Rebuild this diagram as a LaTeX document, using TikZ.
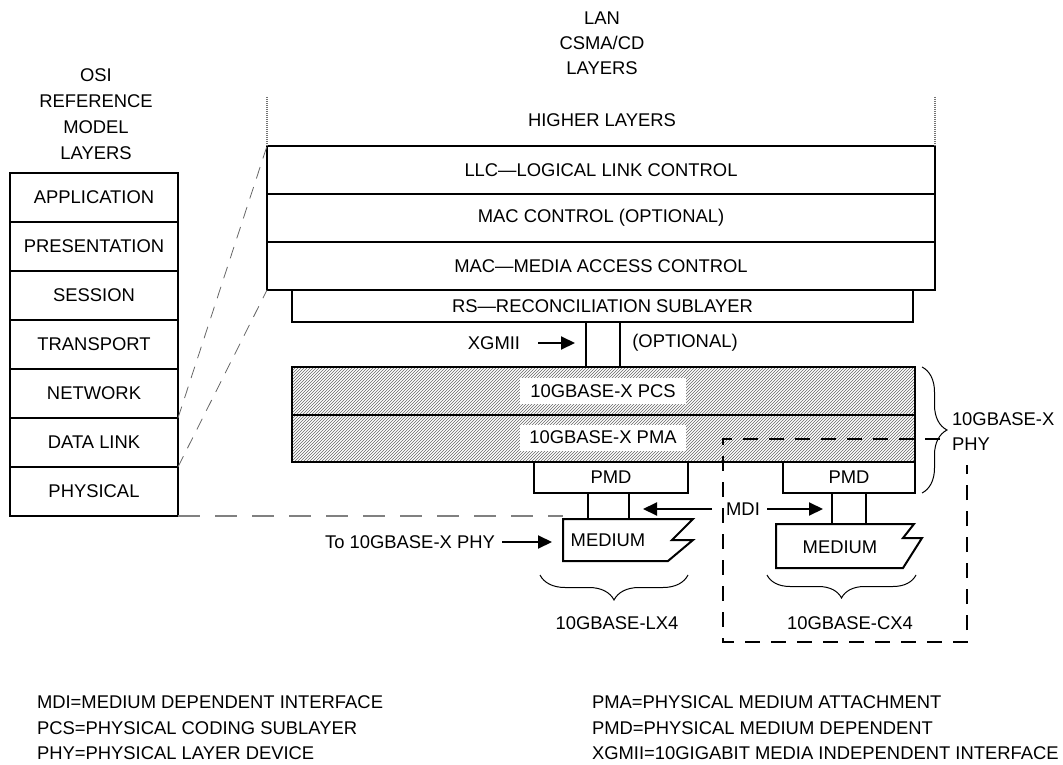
\documentclass[tikz,border=0pt]{standalone}
\usepackage{fontspec}
\setmainfont{Liberation Sans}
\usetikzlibrary{arrows.meta,patterns,decorations.pathreplacing}
\begin{document}
\begin{tikzpicture}[x=1pt,y=-1pt,
  every node/.style={font=\fontsize{18.4}{22}\selectfont,inner sep=0pt,outer sep=0pt},
  box/.style={draw,line width=2pt,minimum height=#1},
  osibox/.style={draw,line width=2pt,minimum width=168,minimum height=49},
  wide/.style={minimum width=668},
  hatch/.style={draw,line width=2pt,pattern=north east lines,pattern color=black!60,minimum width=623},
  wlabel/.style={fill=white,minimum width=166,minimum height=26},
  conn/.style={line width=2pt},
  arr/.style={line width=2pt,-{Triangle[length=14pt,width=13pt]}},
  guide/.style={black!60,line width=0.8pt,dash pattern=on 12pt off 9pt},
  floor/.style={black!50,line width=1.8pt,dash pattern=on 22pt off 15pt},
  topdot/.style={black!55,line width=1.6pt,dash pattern=on 1pt off 1pt},
  phybox/.style={line width=2pt,dash pattern=on 15pt off 11pt},
  brc/.style={line width=1pt,decorate,decoration={brace,amplitude=#1}},
  legend/.style={anchor=west,font=\fontsize{18.4}{22}\selectfont}
]
\useasboundingbox (0,0) rectangle (1063,765);

% titles
\node[align=center,font=\fontsize{18.4}{26}\selectfont] (osititle) at (96,114) {OSI\\REFERENCE\\MODEL\\LAYERS};
\node[align=center,font=\fontsize{18.4}{25}\selectfont] (lantitle) at (602,43) {LAN\\CSMA/CD\\LAYERS};
\node (higher) at (602,120) {HIGHER LAYERS};

% OSI column
\node[osibox] (app)  at (94,197.5) {APPLICATION};
\node[osibox] (pres) at (94,246.5) {PRESENTATION};
\node[osibox] (sess) at (94,295.5) {SESSION};
\node[osibox] (trans) at (94,344.5) {TRANSPORT};
\node[osibox] (net)  at (94,393.5) {NETWORK};
\node[osibox] (dl)   at (94,442.5) {DATA LINK};
\node[osibox] (phys) at (94,491.5) {PHYSICAL};

% LAN stack
\node[box=48,wide] (llc)  at (601,170) {LLC---LOGICAL LINK CONTROL};
\node[box=48,wide] (macc) at (601,218) {MAC CONTROL (OPTIONAL)};
\node[box=48,wide] (mac)  at (601,266) {MAC---MEDIA ACCESS CONTROL};
\node[box=32,minimum width=621] (rs) at (602.5,306) {RS---RECONCILIATION SUBLAYER};

\draw[topdot] (267,97) -- (llc.north west);
\draw[topdot] (935,97) -- (llc.north east);

% XGMII
\draw[conn] (586,0 |- rs.south) -- (586,367);
\draw[conn] (620,0 |- rs.south) -- (620,367);
\node (xg) at (494,343) {XGMII};
\coordinate (xga) at (538,343);
\coordinate (xgb) at (575,343);
\draw[arr] (xga) -- (xgb);
\node (opt) at (685,343) {(OPTIONAL)};

% PCS / PMA
\node[hatch,minimum height=48] (pcs) at (603.5,391) {};
\node[hatch,minimum height=47] (pma) at (603.5,438.5) {};
\node[wlabel] (pcsl) at (603,391) {10GBASE-X PCS};
\node[wlabel] (pmal) at (603,437.5) {10GBASE-X PMA};

% PMDs
\node[box=31,minimum width=154] (pmdL) at (611,477.5) {PMD};
\node[box=31,minimum width=132] (pmdR) at (849,477.5) {PMD};

% media
\draw[line width=2pt] (563,519) coordinate (mLtl) -- (693,519) -- (672,540) -- (693,540) -- (668,561) -- (563,561) -- cycle;
\node (medL) at (608,540) {MEDIUM};
\draw[line width=2pt] (776,524) coordinate (mRtl) -- (914,524) -- (903,538) -- (922,538) -- (903,568) -- (776,568) -- cycle;
\node (medR) at (840,547) {MEDIUM};

\draw[conn] (588,0 |- pmdL.south) -- (588,519);
\draw[conn] (629,0 |- pmdL.south) -- (629,519);
\draw[conn] (832,0 |- pmdR.south) -- (832,524);
\draw[conn] (866,0 |- pmdR.south) -- (866,524);

% MDI
\node (mdi) at (743,509) {MDI};
\coordinate (mdiL1) at (712,509);
\coordinate (mdiL2) at (643,509);
\coordinate (mdiR1) at (767,509);
\coordinate (mdiR2) at (823,509);
\draw[arr] (mdiL1) -- (mdiL2);
\draw[arr] (mdiR1) -- (mdiR2);

% To 10GBASE-X PHY
\node (tophy) at (410,542) {To 10GBASE-X PHY};
\coordinate (ta) at (502,542);
\coordinate (tb) at (552,542);
\draw[arr] (ta) -- (tb);

% guide lines
\draw[guide] (net.south east) -- (llc.north west);
\draw[guide] (dl.south east) -- (mac.south west);
\draw[floor] (phys.south east) -- (phys.south east -| mLtl);

% dashed PHY box
\draw[phybox] (940,439) -- (723,439) -- (723,642) -- (967,642) -- (967,465);

% braces
\draw[brc=25pt] (922,367) -- (922,493);
\node[anchor=west,align=left,font=\fontsize{18.4}{25}\selectfont] (phyl) at (952,432) {10GBASE-X\\PHY};
\draw[brc=25pt] (688,575) -- (540,575);
\node (lx4) at (617,623) {10GBASE-LX4};
\draw[brc=23pt] (916,575) -- (767,575);
\node (cx4) at (850,623) {10GBASE-CX4};

% legend
\node[legend] (l1) at (37,702) {MDI=MEDIUM DEPENDENT INTERFACE};
\node[legend] (l2) at (37,728) {PCS=PHYSICAL CODING SUBLAYER};
\node[legend] (l3) at (37,753) {PHY=PHYSICAL LAYER DEVICE};
\node[legend] (r1) at (592,702) {PMA=PHYSICAL MEDIUM ATTACHMENT};
\node[legend] (r2) at (592,728) {PMD=PHYSICAL MEDIUM DEPENDENT};
\node[legend] (r3) at (592,753) {XGMII=10GIGABIT MEDIA INDEPENDENT INTERFACE};
\end{tikzpicture}
\end{document}
